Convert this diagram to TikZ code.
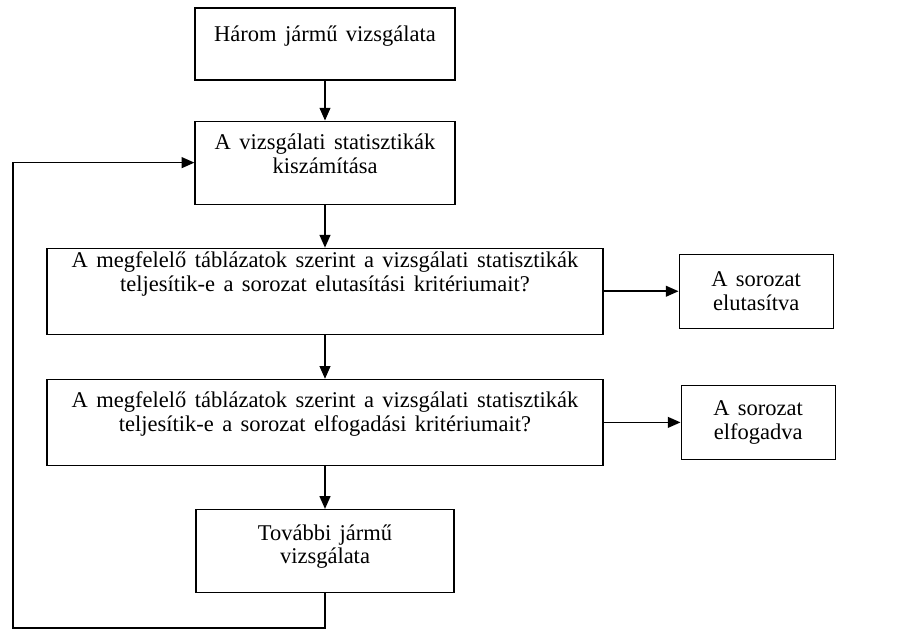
\documentclass[tikz,border=0pt]{standalone}
\usepackage{fontspec}
\setmainfont{Liberation Serif}[WordSpace=1.5]
\usetikzlibrary{positioning, arrows.meta}

\begin{document}
\begin{tikzpicture}[
    stepbox/.style={draw=black, line width=0.8pt, rectangle, inner sep=0pt},
    boxtext/.style={anchor=base, align=center, inner sep=0pt, font=\fontsize{16}{17}\selectfont},
    resbox/.style={draw=black, line width=0.8pt, rectangle, align=center, minimum width=3.85cm, minimum height=1.85cm, font=\fontsize{16}{17.5}\selectfont},
    flow/.style={line width=1.2pt, -{Triangle[length=0.32cm, width=0.27cm]}}
]

% bounding box
\useasboundingbox (0,0) rectangle (22.95,-15.75);

% nodes
\node[stepbox, minimum width=6.5cm, minimum height=1.8cm,
      label={[boxtext, yshift=-0.85cm]north:Három jármű vizsgálata}] (harom) at (8.125,-1.1) {};
\node[stepbox, minimum width=6.5cm, minimum height=2.075cm, below=1cm of harom,
      label={[boxtext, yshift=-1.32cm]north:A vizsgálati statisztikák\\kiszámítása}] (szamit) {};
\node[stepbox, minimum width=13.9cm, minimum height=2.15cm, below=1.075cm of szamit,
      label={[boxtext, yshift=-1.1cm]north:A megfelelő táblázatok szerint a vizsgálati statisztikák\\teljesítik-e a sorozat elutasítási kritériumait?}] (elutkrit) {};
\node[stepbox, minimum width=13.9cm, minimum height=2.15cm, below=1.1cm of elutkrit,
      label={[boxtext, yshift=-1.325cm]north:A megfelelő táblázatok szerint a vizsgálati statisztikák\\teljesítik-e a sorozat elfogadási kritériumait?}] (elfkrit) {};
\node[stepbox, minimum width=6.45cm, minimum height=2.075cm, below=1.075cm of elfkrit,
      label={[boxtext, yshift=-1.375cm]north:További jármű\\vizsgálata}] (tovabbi) {};
\node[resbox, right=1.875cm of elutkrit] (elut) {A sorozat\\elutasítva};
\node[resbox, right=1.925cm of elfkrit] (elfog) {A sorozat\\elfogadva};

% loop corner
\coordinate (loopbl) at (0.325,-15.7);

% edges
\draw[flow] (harom) -- (szamit);
\draw[flow] (szamit) -- (elutkrit);
\draw[flow] (elutkrit) -- (elfkrit);
\draw[flow] (elfkrit) -- (tovabbi);
\draw[flow] (elutkrit) -- (elut);
\draw[flow] (elfkrit) -- (elfog);
\draw[flow] (tovabbi.south) |- (loopbl) |- (szamit.west);

\end{tikzpicture}
\end{document}
